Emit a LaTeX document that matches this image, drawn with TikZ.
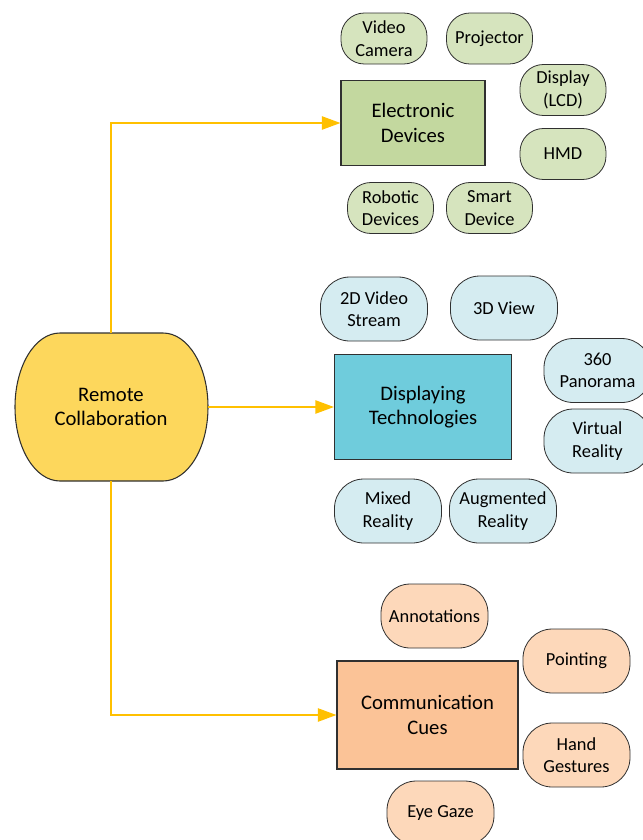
\documentclass[tikz,border=0pt]{standalone}
\usepackage{fontspec}
\setmainfont{Carlito}
\usetikzlibrary{arrows.meta}
\definecolor{arrowc}{HTML}{FFC000}
\definecolor{rcfill}{HTML}{FDD75C}
\definecolor{edbox}{HTML}{C3D89F}
\definecolor{edbub}{HTML}{D6E4BE}
\definecolor{dtbox}{HTML}{6FCCDC}
\definecolor{dtbub}{HTML}{D5ECF1}
\definecolor{ccbox}{HTML}{FBC397}
\definecolor{ccbub}{HTML}{FDD8BA}
\definecolor{edgec}{HTML}{303030}
\tikzset{
  bigtext/.style={font=\fontsize{15.5}{18.6}\selectfont, align=center},
  smalltext/.style={font=\fontsize{13.8}{16.8}\selectfont, align=center},
  mainbox/.style={draw=edgec, line width=0.8pt, bigtext, inner sep=0pt},
  bubble/.style={draw=edgec, line width=0.6pt, smalltext, inner sep=0pt,
    minimum width=80.25pt, minimum height=48pt, rounded corners=22pt},
  sbubble/.style={draw=edgec, line width=0.6pt, smalltext, inner sep=0pt,
    minimum width=64.5pt, minimum height=38.25pt, rounded corners=17.5pt},
  conn/.style={draw=arrowc, line width=1.2pt, -{Triangle[length=14pt,width=10pt]}},
}
\begin{document}
\begin{tikzpicture}[x=0.75pt,y=-0.75pt]
\useasboundingbox (0,0) rectangle (643,840);
% Remote Collaboration
\path[fill=rcfill, draw=edgec, line width=0.8pt]
  (60,333) -- (163,333) .. controls (188,333) and (208,366) .. (208,407)
  .. controls (208,448) and (188,481) .. (163,481) -- (60,481)
  .. controls (35,481) and (15,448) .. (15,407)
  .. controls (15,366) and (35,333) .. (60,333) -- cycle;
\node[bigtext, minimum width=144.75pt, minimum height=111pt, inner sep=0pt] (rc) at (111,407) {Remote\\Collaboration};

% Electronic devices
\node[mainbox, fill=edbox, minimum width=108pt, minimum height=63.75pt] (ed) at (413,123) {Electronic\\Devices};
\node[sbubble, fill=edbub] (vc) at (384,38.5) {Video\\Camera};
\node[sbubble, fill=edbub] (pj) at (489.5,38.5) {Projector};
\node[sbubble, fill=edbub] (dl) at (563,90) {Display\\(LCD)};
\node[sbubble, fill=edbub] (hmd) at (563,154) {HMD};
\node[sbubble, fill=edbub] (rd) at (390.5,208) {Robotic\\Devices};
\node[sbubble, fill=edbub] (sd) at (489.5,208) {Smart\\Device};

% Displaying technologies
\node[mainbox, fill=dtbox, minimum width=132.75pt, minimum height=78.75pt] (dt) at (423,407) {Displaying\\Technologies};
\node[bubble, fill=dtbub] (v2d) at (374,309) {2D Video\\Stream};
\node[bubble, fill=dtbub] (v3d) at (504,308) {3D View};
\node[bubble, fill=dtbub] (pan) at (597.5,370.5) {360\\Panorama};
\node[bubble, fill=dtbub] (vr) at (597.5,441) {Virtual\\Reality};
\node[bubble, fill=dtbub] (mr) at (388,511) {Mixed\\Reality};
\node[bubble, fill=dtbub] (ar) at (503,511) {Augmented\\Reality};

% Communication cues
\node[mainbox, fill=ccbox, minimum width=135.75pt, minimum height=81pt] (cc) at (427.5,715) {Communication\\Cues};
\node[bubble, fill=ccbub] (ann) at (434.5,616) {Annotations};
\node[bubble, fill=ccbub] (pt) at (576.5,661) {Pointing};
\node[bubble, fill=ccbub] (hg) at (576.5,755) {Hand\\Gestures};
\node[bubble, fill=ccbub] (eg) at (440.5,813) {Eye Gaze};

% connectors
\coordinate (bend1) at (rc.north |- ed.west);
\coordinate (bend2) at (rc.south |- cc.west);
\draw[conn] (rc.north) -- (bend1) -- (ed.west);
\draw[conn] (rc.east) -- (dt.west);
\draw[conn] (rc.south) -- (bend2) -- (cc.west);
\end{tikzpicture}
\end{document}
